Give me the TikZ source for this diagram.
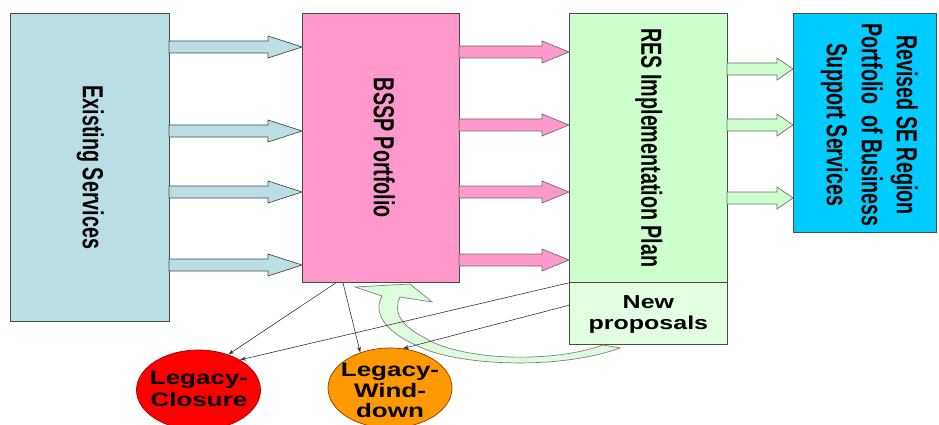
\documentclass[tikz,border=0pt]{standalone}
\usepackage{fontspec}
\setmainfont{Liberation Sans}
\usetikzlibrary{shapes.geometric,arrows.meta,calc}
\definecolor{exfill}{HTML}{B9DFE4}
\definecolor{pinkfill}{HTML}{FF99CC}
\definecolor{resfill}{HTML}{CCFFCC}
\definecolor{newfill}{HTML}{E2FFE2}
\definecolor{revfill}{HTML}{00CCFF}
\definecolor{closefill}{HTML}{FF0000}
\definecolor{windfill}{HTML}{FF9900}
\definecolor{curvefill}{HTML}{DDFBDD}
\definecolor{edgecol}{HTML}{4A4A4A}
\newcommand\vtext[2]{\scalebox{1}[0.68]{\rotatebox{-90}{\fontsize{#1}{35}\selectfont\bfseries\begin{tabular}{@{}c@{}}#2\end{tabular}}}}
\newcommand\htext[3]{\scalebox{1}[0.75]{\fontsize{#1}{#2}\selectfont\bfseries\begin{tabular}{@{}c@{}}#3\end{tabular}}}
\newcommand\blockarrow[5]{\draw[#1] (#2,#5-6) -- (#3,#5-6) -- (#3,#5-11) -- (#4,#5) -- (#3,#5+11) -- (#3,#5+6) -- (#2,#5+6) -- cycle;}
\begin{document}
\begin{tikzpicture}[x=1pt,y=-1pt,
  boxstyle/.style={draw=edgecol,line width=0.8pt,inner sep=0pt,anchor=north west},
  lbl/.style={inner sep=0pt,text=black},
  ovalstyle/.style={ellipse,inner sep=0pt,minimum width=124,minimum height=80,line width=0.7pt},
  bluearrow/.style={fill=exfill,draw=edgecol,line width=0.7pt},
  pinkarrow/.style={fill=pinkfill,draw=edgecol!80,line width=0.7pt},
  greenarrow/.style={fill=resfill,draw=edgecol!80,line width=0.7pt},
  conn/.style={draw=black!80,line width=0.6pt,-{Stealth[length=6pt,width=4pt]}},
  curvearrow/.style={fill=curvefill,draw=edgecol!70,line width=0.7pt}]
\useasboundingbox (0,0) rectangle (939,425);
\clip (0,0) rectangle (939,425);
\fill[white] (0,0) rectangle (939,425);

% boxes
\node[boxstyle,fill=exfill,minimum width=159,minimum height=308] (exist) at (10,13) {};
\node[boxstyle,fill=pinkfill,minimum width=157,minimum height=269] (bssp) at (302,13) {};
\node[boxstyle,fill=resfill,minimum width=158,minimum height=269] (res) at (569,13) {};
\node[boxstyle,fill=newfill,minimum width=158,minimum height=62] (newp) at (569,282) {};
\node[boxstyle,fill=revfill,minimum width=143,minimum height=219] (rev) at (793,13) {};

% labels
\node[lbl] (existtxt) at (exist.center) {\vtext{29}{Existing Services}};
\node[lbl] (bssptxt) at (bssp.center) {\vtext{29}{BSSP Portfolio}};
\node[lbl] (restxt) at (res.center) {\vtext{29}{RES Implementation Plan}};
\node[lbl] (revtxt) at ($(rev.center)+(4,2)$) {\vtext{29}{Revised SE Region\\Portfolio\ \ of Business\\Support Services}};
\node[lbl] (newptxt) at ($(newp.center)+(0,1)$) {\htext{25}{28}{New\\proposals}};

% block arrows
\blockarrow{bluearrow}{169}{268}{302}{47}
\blockarrow{bluearrow}{169}{268}{302}{131}
\blockarrow{bluearrow}{169}{268}{302}{192}
\blockarrow{bluearrow}{169}{268}{302}{265}
\blockarrow{pinkarrow}{459}{542}{569}{52}
\blockarrow{pinkarrow}{459}{542}{569}{125}
\blockarrow{pinkarrow}{459}{542}{569}{192}
\blockarrow{pinkarrow}{459}{542}{569}{260}
\blockarrow{greenarrow}{727}{777}{793}{69}
\blockarrow{greenarrow}{727}{777}{793}{125}
\blockarrow{greenarrow}{727}{777}{793}{198}

% ovals
\node[ovalstyle,fill=closefill,draw=red!60!black] (closure) at (198.5,390) {};
\node[ovalstyle,fill=windfill,draw=orange!50!black] (wind) at (390,388) {};
\node[lbl] (closuretxt) at (199,391.5) {\htext{26}{29.3}{Legacy-\\Closure}};
\node[lbl] (windtxt) at (390,393) {\htext{26}{27.3}{Legacy-\\Wind-\\down}};

% curved feedback arrow
\draw[curvearrow] (382,296) .. controls (374,310) and (380,330) .. (420,347)
  .. controls (460,366) and (560,370) .. (620,348)
  -- (603,345)
  .. controls (550,364) and (460,360) .. (425,338)
  .. controls (400,325) and (393,312) .. (400,297)
  -- (432,302) -- (410,284) -- (355,287) -- cycle;

% thin connectors
\draw[conn] ($(bssp.south west)+(34,0)$) -- (closure.50);
\draw[conn] ($(bssp.south west)+(41,0)$) -- (wind.130);
\draw[conn] (res.south west) -- (closure.36);
\draw[conn] ($(newp.north west)!0.37!(newp.south west)$) -- (wind.72);
\end{tikzpicture}
\end{document}
